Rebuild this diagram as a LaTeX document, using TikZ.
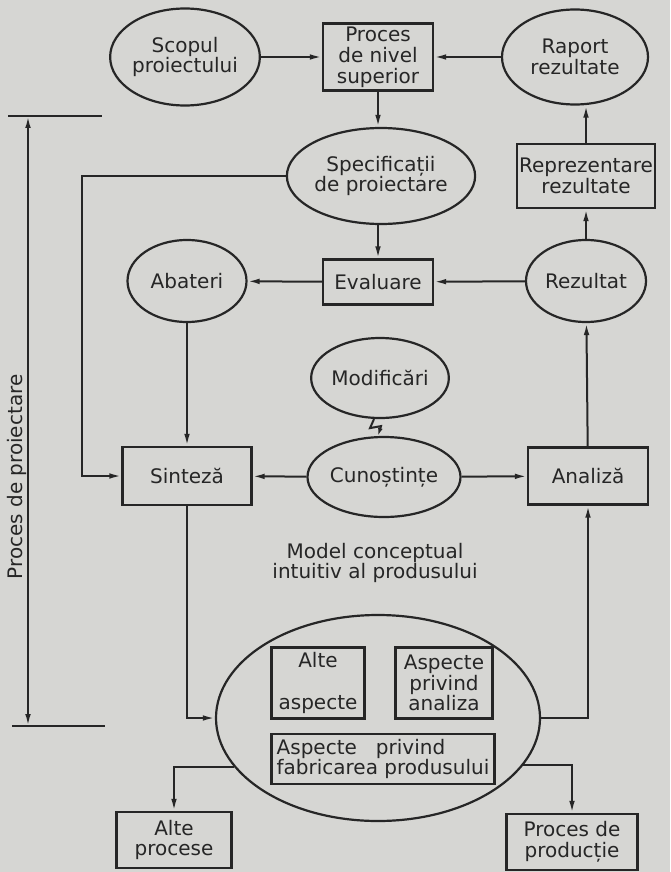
\documentclass[tikz,border=0pt]{standalone}
\usepackage{fontspec}
\setmainfont{DejaVu Sans}
\usetikzlibrary{arrows.meta,shapes.geometric}
\definecolor{paper}{RGB}{214,214,211}
\definecolor{ink}{RGB}{38,38,38}
\tikzset{
  block/.style = {draw=ink, line width=1.1pt, rectangle, align=center, inner sep=1pt},
  oval/.style  = {draw=ink, line width=1.1pt, ellipse, align=center, inner sep=0pt},
  sig/.style   = {-{Latex[length=6pt,width=2.8pt]}, line width=1pt, draw=ink},
  sigboth/.style = {{Latex[length=6pt,width=2.8pt]}-{Latex[length=6pt,width=2.8pt]},
                    line width=1pt, draw=ink},
  wire/.style  = {line width=1pt, draw=ink},
}
\begin{document}
\begin{tikzpicture}[x=0.5pt, y=-0.5pt, font=\fontsize{10}{10.4}\selectfont, text=ink]
\fill[paper] (0,0) rectangle (670,872);
\useasboundingbox (0,0) rectangle (670,872);
% top row
\node[oval, minimum width=73pt, minimum height=48.5pt] (scop) at (185,57) {Scopul\\proiectului};
\node[block, minimum width=55pt, minimum height=33.5pt] (procsup) at (378,57) {Proces\\de nivel\\superior};
\node[oval, minimum width=73pt, minimum height=47.5pt] (raport) at (575,57) {Raport\\rezultate};
% second row
\node[oval, minimum width=74pt, minimum height=48pt] (spec) at (381,176) {Specificații\\de proiectare};
\node[block, minimum width=69pt, minimum height=32pt] (reprez) at (586,176) {Reprezentare\\rezultate};
% third row
\node[oval, minimum width=59.5pt, minimum height=41pt] (abat) at (187,281) {Abateri};
\node[block, minimum width=55pt, minimum height=22.5pt] (eval) at (378,282) {Evaluare};
\node[oval, minimum width=60pt, minimum height=41pt] (rez) at (586,281) {Rezultat};
% middle
\node[oval, minimum width=59pt, minimum height=40pt] (modif) at (380,378) {Modificări};
\node[block, minimum width=64.5pt, minimum height=29pt] (sint) at (187,476) {Sinteză};
\node[oval, minimum width=61pt, minimum height=40pt] (cunost) at (384,477) {Cunoștințe};
\node[block, minimum width=60pt, minimum height=28.5pt] (anal) at (588,476) {Analiză};
% conceptual model
\node[align=center] (modtxt) at (375,563) {Model conceptual\\intuitiv al produsului};
\node[oval, minimum width=162pt, minimum height=103pt] (model) at (378,718) {};
\node[block, minimum width=46.5pt, minimum height=35.5pt] (alteasp) at (318,683) {Alte\\[11pt]aspecte};
\node[block, minimum width=48.5pt, minimum height=35.5pt] (anasp) at (444,683) {Aspecte\\privind\\analiza};
\node[block, align=left, minimum width=111.5pt, minimum height=25pt] (fabr) at (383,759)
  {Aspecte\ \ \ privind\\fabricarea produsului};
% bottom
\node[block, minimum width=57.5pt, minimum height=28pt] (altepr) at (174,840) {Alte\\procese};
\node[block, minimum width=65.5pt, minimum height=28pt] (prodpr) at (572,842) {Proces de\\producție};
% design process span
\coordinate (tl) at (8,116);  \coordinate (tr) at (102,116);
\coordinate (bl) at (12,726); \coordinate (br) at (105,726);
\coordinate (ttop) at (28,116); \coordinate (tbot) at (28,726);
\draw[wire] (tl) -- (tr);
\draw[wire] (bl) -- (br);
\draw[sigboth] (ttop) -- (tbot);
\node[rotate=90] (procp) at (17,477) {Proces de proiectare};
% connectors
\draw[sig] (scop) -- (procsup);
\draw[sig] (raport) -- (procsup);
\draw[sig] (procsup) -- (spec.north -| procsup);
\draw[sig] (spec.south -| eval) -- (eval);
\draw[sig] (rez) -- (eval);
\draw[sig] (eval) -- (abat);
\draw[sig] (rez) -- (reprez);
\draw[sig] (reprez.north) -- (reprez.north |- raport.south);
\draw[sig] (anal) -- (rez);
\draw[sig] (abat) -- (sint);
\draw[sig] (cunost) -- (sint);
\draw[sig] (cunost) -- (anal);
\coordinate (bend) at (82,176);
\draw[sig] (spec.west) -- (bend) |- (sint.west);
\draw[sig] (sint) |- (model);
\draw[sig] (model) -| (anal);
\draw[sig] (model.199) -| (altepr);
\draw[sig] (model.342) -| (prodpr);
\draw[wire, -{Latex[length=4pt,width=2.4pt]}] ([xshift=-3pt]modif.south) -- ++(-4,9) -- ++(11,-2) -- ([xshift=-3pt]cunost.north);
\end{tikzpicture}
\end{document}
